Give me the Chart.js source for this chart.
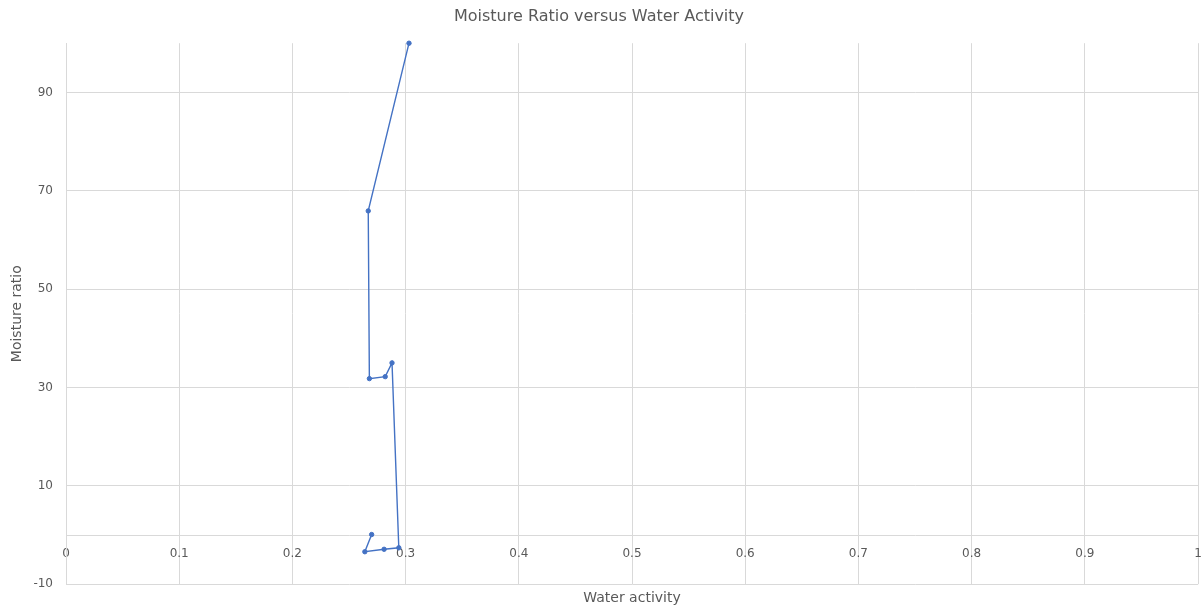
<!DOCTYPE html>
<html>
<head>
<meta charset="utf-8">
<script src="https://cdn.jsdelivr.net/npm/chart.js@4/dist/chart.umd.min.js"></script>
<style>
html,body{margin:0;padding:0;background:#fff;}
#wrap{width:1202px;height:610px;}
</style>
</head>
<body>
<div id="wrap"><canvas id="c" width="1202" height="610"></canvas></div>
<script>
const waterActivity = [0.303, 0.267, 0.268, 0.282, 0.288, 0.294, 0.281, 0.264, 0.270];
const moistureRatio = [100, 65.9, 31.8, 32.2, 35.0, -2.6, -2.9, -3.4, 0.1];
const xTicks = [0, 0.1, 0.2, 0.3, 0.4, 0.5, 0.6, 0.7, 0.8, 0.9, 1];
const yTicks = [-10, 10, 30, 50, 70, 90];

const textColor = '#595959';
const gridColor = '#d9d9d9';
const fontFamily = "'DejaVu Sans', 'Open Sans', sans-serif";

const points = waterActivity.map((x, i) => ({x: x, y: moistureRatio[i]}));
const noPad = (s) => { s.paddingLeft = 0; s.paddingRight = 0; };

new Chart(document.getElementById('c'), {
  type: 'line',
  data: {
    datasets: [{
      data: points,
      borderColor: '#4472C4',
      backgroundColor: '#4472C4',
      borderWidth: 1.4,
      pointRadius: 2.2,
      pointBorderWidth: 1,
      pointHoverRadius: 2.2,
      fill: false,
      tension: 0,
      clip: false,
      xAxisID: 'x',
      yAxisID: 'y'
    }]
  },
  options: {
    responsive: false,
    animation: false,
    layout: {padding: {left: 0, right: 4, top: 0, bottom: 3}},
    plugins: {
      legend: {display: false},
      tooltip: {enabled: false},
      title: {
        display: true,
        text: 'Moisture Ratio versus Water Activity',
        color: textColor,
        font: {family: fontFamily, size: 16, weight: 'normal'},
        padding: {top: 7, bottom: 17}
      }
    },
    scales: {
      x: {
        type: 'linear',
        position: {y: 0},
        min: 0,
        max: 1,
        afterBuildTicks: (s) => { s.ticks = xTicks.map(v => ({value: v})); },
        afterFit: noPad,
        ticks: {
          color: textColor,
          font: {family: fontFamily, size: 12},
          padding: 12,
          maxRotation: 0,
          autoSkip: false,
          callback: (v) => String(v)
        },
        grid: {color: gridColor, lineWidth: 1, drawTicks: false},
        border: {color: gridColor, width: 1}
      },
      xt: {
        type: 'linear',
        position: 'bottom',
        min: 0,
        max: 1,
        afterFit: noPad,
        ticks: {display: false},
        grid: {display: false, drawTicks: false},
        border: {display: false},
        title: {
          display: true,
          text: 'Water activity',
          color: textColor,
          font: {family: fontFamily, size: 14},
          padding: {top: 6, bottom: 0}
        }
      },
      y: {
        type: 'linear',
        min: -10,
        max: 100,
        afterBuildTicks: (s) => { s.ticks = yTicks.map(v => ({value: v})); },
        afterFit: (s) => { s.width = 66; },
        ticks: {
          color: textColor,
          font: {family: fontFamily, size: 12},
          padding: 13,
          callback: (v) => String(v)
        },
        grid: {color: gridColor, lineWidth: 1, drawTicks: false},
        border: {color: gridColor, width: 1},
        title: {
          display: true,
          text: 'Moisture ratio',
          color: textColor,
          font: {family: fontFamily, size: 14},
          padding: {top: 9, bottom: 6}
        }
      }
    }
  }
});
</script>
</body>
</html>
